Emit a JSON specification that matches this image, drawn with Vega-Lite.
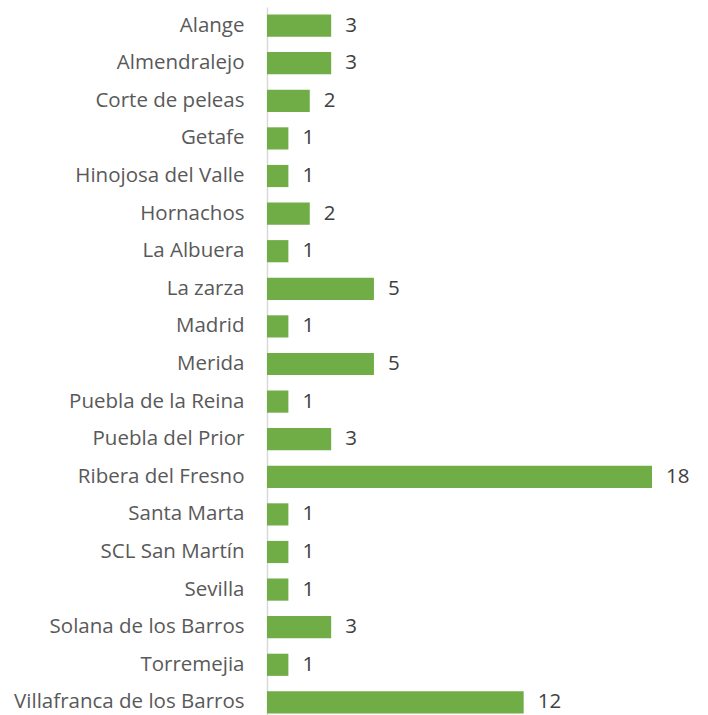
{
  "$schema": "https://vega.github.io/schema/vega-lite/v6.json",
  "autosize": "none",
  "padding": {"left": 267, "top": 7, "right": 56, "bottom": 0},
  "width": 385,
  "height": 714,
  "background": "white",
  "config": {"view": {"stroke": null}, "font": "Open Sans"},
  "data": {"values": [
    {"lugar": "Alange", "n": 3},
    {"lugar": "Almendralejo", "n": 3},
    {"lugar": "Corte de peleas\u00a0", "n": 2},
    {"lugar": "Getafe\u00a0", "n": 1},
    {"lugar": "Hinojosa del Valle", "n": 1},
    {"lugar": "Hornachos", "n": 2},
    {"lugar": "La Albuera", "n": 1},
    {"lugar": "La zarza", "n": 5},
    {"lugar": "Madrid", "n": 1},
    {"lugar": "Merida", "n": 5},
    {"lugar": "Puebla de la Reina", "n": 1},
    {"lugar": "Puebla del Prior", "n": 3},
    {"lugar": "Ribera del Fresno", "n": 18},
    {"lugar": "Santa Marta", "n": 1},
    {"lugar": "SCL San Martín\u00a0", "n": 1},
    {"lugar": "Sevilla", "n": 1},
    {"lugar": "Solana de los Barros", "n": 3},
    {"lugar": "Torremejia\u00a0", "n": 1},
    {"lugar": "Villafranca de los Barros", "n": 12}
  ]},
  "encoding": {
    "y": {
      "field": "lugar", "type": "nominal", "sort": null,
      "scale": {"paddingInner": 0.41, "paddingOuter": 0.2},
      "axis": {
        "title": null, "ticks": false, "domain": true, "domainColor": "#D9D9D9", "domainWidth": 1.5,
        "labelFont": "Open Sans", "labelFontSize": 20.5, "labelColor": "#595959", "labelPadding": 23,
        "labelLimit": 300
      }
    },
    "x": {
      "field": "n", "type": "quantitative",
      "scale": {"domain": [0, 18], "nice": false, "zero": true},
      "axis": null
    }
  },
  "layer": [
    {"mark": {"type": "bar", "color": "#70AD47"}},
    {
      "mark": {"type": "text", "align": "left", "baseline": "middle", "dx": 14, "font": "Open Sans", "fontSize": 20.5, "color": "#404040"},
      "encoding": {"text": {"field": "n", "type": "quantitative"}}
    }
  ]
}
